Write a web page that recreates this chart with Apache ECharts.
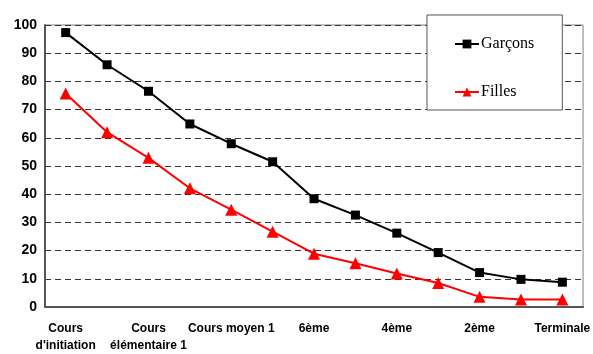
<!DOCTYPE html>
<html>
<head>
<meta charset="utf-8">
<script src="https://cdn.jsdelivr.net/npm/echarts@6/dist/echarts.min.js"></script>
<style>
  html, body { margin: 0; padding: 0; background: #fff; }
  #chart { width: 593px; height: 354px; }
</style>
</head>
<body>
<div id="chart"></div>
<script>
// School levels, from initiation course to final year
const levels = [
  "Cours\nd'initiation", 'Cours préparatoire', 'Cours\nélémentaire 1', 'Cours élémentaire 2',
  'Cours moyen 1', 'Cours moyen 2', '6ème', '5ème', '4ème', '3ème', '2ème', '1ère', 'Terminale'
];

// Enrolment rate by level (%)
const garcons = [97.3, 85.9, 76.5, 64.9, 57.9, 51.5, 38.4, 32.6, 26.2, 19.3, 12.2, 9.8, 8.8];
const filles  = [75.7, 62.0, 52.9, 42.1, 34.5, 26.7, 18.9, 15.5, 11.9, 8.5, 3.6, 2.7, 2.7];

const chart = echarts.init(document.getElementById('chart'), null, { renderer: 'canvas' });

chart.setOption({
  animation: false,
  backgroundColor: '#ffffff',
  grid: {
    left: 45, right: 3, top: 25, bottom: 44,
    show: true, borderColor: '#808080', borderWidth: 1, backgroundColor: 'transparent'
  },
  legend: {
    orient: 'vertical',
    left: 427, top: 15,
    padding: [21, 28, 10, 27],
    itemGap: 32,
    itemWidth: 24, itemHeight: 11,
    backgroundColor: '#ffffff',
    borderColor: '#555555', borderWidth: 1,
    textStyle: { fontFamily: 'Liberation Serif', fontSize: 16, color: '#000', padding: [0, 0, 0, -3] },
    data: ['Garçons', 'Filles']
  },
  xAxis: {
    type: 'category',
    data: levels,
    boundaryGap: true,
    axisLine: { lineStyle: { color: '#555555', width: 2 } },
    axisTick: { inside: true, length: 4, interval: 1, lineStyle: { color: '#555555', width: 1 } },
    axisLabel: {
      interval: 1,
      margin: 13,
      fontFamily: 'Liberation Sans', fontWeight: 'bold', fontSize: 12, color: '#000',
      lineHeight: 17
    }
  },
  yAxis: {
    type: 'value',
    min: 0, max: 100, interval: 10,
    axisLine: { show: true, lineStyle: { color: '#555555', width: 2 } },
    axisTick: { show: false },
    axisLabel: {
      margin: 8,
      fontFamily: 'Liberation Sans', fontWeight: 'bold', fontSize: 14, color: '#000'
    },
    splitLine: { lineStyle: { color: '#333333', width: 1, type: [6, 4] } }
  },
  series: [
    {
      name: 'Garçons',
      type: 'line',
      data: garcons,
      symbol: 'rect', symbolSize: 9,
      lineStyle: { color: '#000', width: 2 },
      itemStyle: { color: '#000' }
    },
    {
      name: 'Filles',
      type: 'line',
      data: filles,
      symbol: 'triangle', symbolSize: 12,
      lineStyle: { color: '#ff0000', width: 2 },
      itemStyle: { color: '#ff0000' }
    }
  ]
});
</script>
</body>
</html>
